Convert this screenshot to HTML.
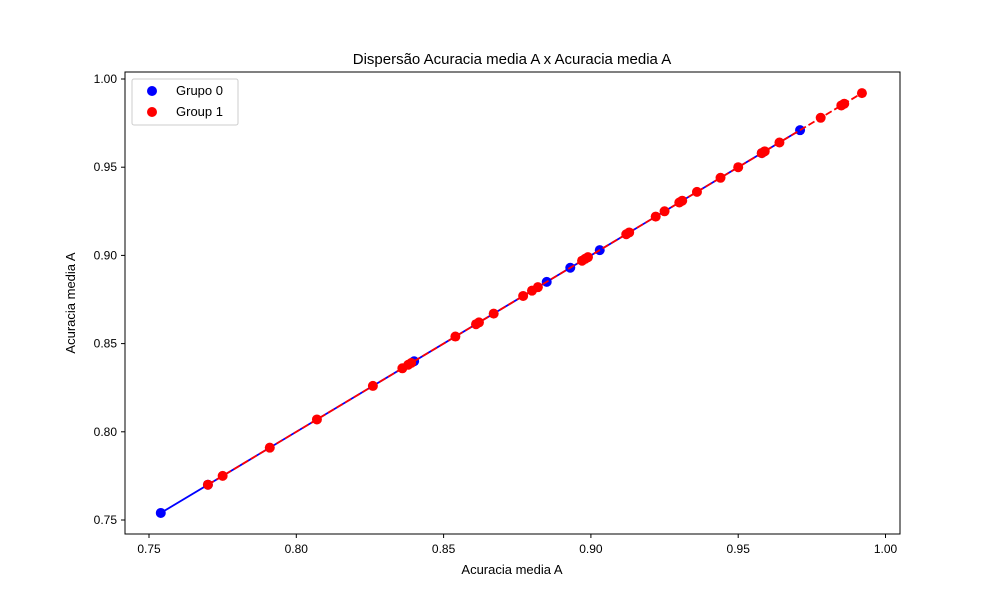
<!DOCTYPE html>
<html><head><meta charset="utf-8"><style>
body{margin:0;background:#fff;font-family:"Liberation Sans","DejaVu Sans",sans-serif}
</style></head><body>
<svg id="chart" width="1000" height="600" xmlns="http://www.w3.org/2000/svg" font-family="Liberation Sans, DejaVu Sans, sans-serif">
<rect width="1000" height="600" fill="#fff"/>
<text x="512" y="64" text-anchor="middle" font-size="15">Dispersão Acuracia media A x Acuracia media A</text>
<g id="plot"></g>
<rect x="125" y="72" width="775" height="462" fill="none" stroke="#000" stroke-width="1"/>
<g id="ticks" font-size="12"></g>
<text x="512" y="574" text-anchor="middle" font-size="13">Acuracia media A</text>
<text transform="translate(75,303) rotate(-90)" text-anchor="middle" font-size="13">Acuracia media A</text>
<g>
<rect x="132" y="79" width="106" height="46" fill="#fff" stroke="#ccc" rx="2"/>
<g><circle cx="152" cy="91" r="5" fill="blue"/><text x="176" y="95" font-size="13">Grupo 0</text></g>
<g><circle cx="152" cy="112" r="5" fill="red"/><text x="176" y="116" font-size="13">Group 1</text></g>
</g>
</svg>
<script>
const blueVals=[0.754,0.770,0.840,0.885,0.893,0.903,0.958,0.971];
const redVals=[0.770,0.775,0.791,0.807,0.826,0.836,0.838,0.839,0.854,0.861,0.862,0.867,0.877,0.880,0.882,0.897,0.898,0.899,0.912,0.913,0.922,0.925,0.930,0.931,0.936,0.944,0.950,0.958,0.959,0.964,0.978,0.985,0.986,0.992];
const xTicks=[0.75,0.80,0.85,0.90,0.95,1.00];
const yTicks=[0.75,0.80,0.85,0.90,0.95,1.00];
const X=v=>149+(v-0.75)*2946;
const Y=v=>520-(v-0.75)*1764;
const NS="http://www.w3.org/2000/svg";
const plot=document.getElementById('plot'),tk=document.getElementById('ticks');
function mk(tag,attrs,parent){const e=document.createElementNS(NS,tag);for(const k in attrs)e.setAttribute(k,attrs[k]);parent.appendChild(e);return e;}
function line(vals,color,dash,name){
 const mn=Math.min(...vals),mx=Math.max(...vals);
 const l=mk('line',{x1:X(mn),y1:Y(mn),x2:X(mx),y2:Y(mx),stroke:color,'stroke-width':1.8},plot);
 if(dash)l.setAttribute('stroke-dasharray',dash);
 
 
}
function pts(vals,color,name){
 vals.forEach(v=>{const c=mk('circle',{cx:X(v),cy:Y(v),r:5,fill:color},plot);
 
 });
}
line(blueVals,'blue',null,'trend-line-grupo-0');
pts(blueVals,'blue','point-grupo-0');
line(redVals,'red','7,3','trend-line-group-1');
pts(redVals,'red','point-group-1');
xTicks.forEach(t=>{const x=X(t);
 mk('line',{x1:x,y1:534,x2:x,y2:538,stroke:'#000'},tk);
 const s=mk('text',{x:x,y:553,'text-anchor':'middle'},tk);s.textContent=t.toFixed(2);
 
 });
yTicks.forEach(t=>{const y=Y(t);
 mk('line',{x1:121,y1:y,x2:125,y2:y,stroke:'#000'},tk);
 const s=mk('text',{x:117,y:y+4,'text-anchor':'end'},tk);s.textContent=t.toFixed(2);
 
 });
</script>
</body></html>
